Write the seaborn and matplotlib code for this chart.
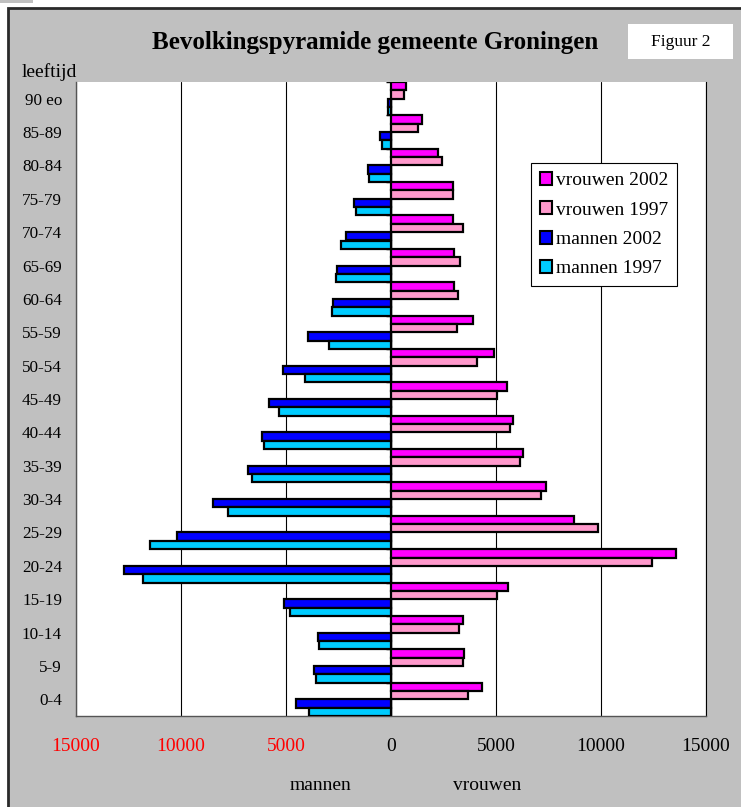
import numpy as np
import pandas as pd
import matplotlib
matplotlib.use("Agg")
import matplotlib.pyplot as plt
from matplotlib.patches import Rectangle
import seaborn as sns

leeftijd = ['0-4', '5-9', '10-14', '15-19', '20-24', '25-29', '30-34', '35-39',
            '40-44', '45-49', '50-54', '55-59', '60-64', '65-69', '70-74',
            '75-79', '80-84', '85-89', '90 eo']
mannen_2002 = [4520, 3680, 3460, 5110, 12700, 10190, 8490, 6830, 6130, 5790,
               5160, 3940, 2750, 2560, 2140, 1750, 1080, 520, 140]
mannen_1997 = [3900, 3590, 3430, 4790, 11810, 11480, 7760, 6600, 6060, 5350,
               4080, 2970, 2820, 2620, 2380, 1670, 1030, 440, 150]
vrouwen_2002 = [4320, 3460, 3440, 5590, 13590, 8700, 7370, 6290, 5790, 5520,
                4920, 3920, 3000, 3000, 2940, 2970, 2250, 1460, 700]
vrouwen_1997 = [3670, 3430, 3240, 5060, 12410, 9840, 7160, 6140, 5670, 5030,
                4100, 3160, 3190, 3270, 3440, 2940, 2430, 1270, 630]

series = ['vrouwen 2002', 'vrouwen 1997', 'mannen 2002', 'mannen 1997']
kleuren = ['#ff00ff', '#ff99cc', '#0000ff', '#00ccff']
xticks = [-15000, -10000, -5000, 0, 5000, 10000, 15000]

# long form, men to the left (negative)
df = pd.concat([
    pd.DataFrame({'leeftijd': leeftijd, 'aantal': vrouwen_2002, 'serie': 'vrouwen 2002'}),
    pd.DataFrame({'leeftijd': leeftijd, 'aantal': vrouwen_1997, 'serie': 'vrouwen 1997'}),
    pd.DataFrame({'leeftijd': leeftijd, 'aantal': [-v for v in mannen_2002], 'serie': 'mannen 2002'}),
    pd.DataFrame({'leeftijd': leeftijd, 'aantal': [-v for v in mannen_1997], 'serie': 'mannen 1997'}),
])

sns.set_style('white')
plt.rcParams['font.family'] = ['Liberation Serif', 'DejaVu Serif']
plt.rcParams['text.color'] = 'black'
plt.rcParams['xtick.labelcolor'] = 'black'
plt.rcParams['ytick.labelcolor'] = 'black'

W, H = 741, 807
fig = plt.figure(figsize=(W / 100, H / 100), dpi=100)
fig.patch.set_facecolor('white')

# grey chart area with dark border
fig.add_artist(Rectangle((8 / W, -0.02), 1.0, (H - 8) / H + 0.02, transform=fig.transFigure,
                         facecolor='#c0c0c0', edgecolor='#2a2a2a', linewidth=2, zorder=0))
fig.add_artist(Rectangle((0, 1 - 3 / H), 33 / W, 3 / H, transform=fig.transFigure,
                         facecolor='#c0c0c0', edgecolor='none', zorder=0))

ax = fig.add_axes([76 / W, (H - 716) / H, 630 / W, 634 / H])
ax.set_facecolor('white')

sns.barplot(data=df, x='aantal', y='leeftijd', hue='serie', order=leeftijd[::-1],
            hue_order=series, palette=kleuren, saturation=1, orient='h', width=1.0,
            dodge=True, edgecolor='black', linewidth=1.6, ax=ax, zorder=3)

ax.set_xlim(-15000, 15000)
ax.set_ylim(len(leeftijd) - 0.5, -0.5)
ax.set_xticks(xticks)
ax.set_xticklabels([str(abs(t)) for t in xticks], fontsize=14)
for lbl, t in zip(ax.get_xticklabels(), xticks):
    lbl.set_color('red' if t < 0 else 'black')
ax.tick_params(axis='x', direction='out', length=7, width=1, color='#333333', pad=9)
ax.tick_params(axis='y', length=0, pad=10, labelsize=12.3)
ax.set_xlabel('')
ax.set_ylabel('')

ax.grid(axis='x', color='black', linewidth=0.8, zorder=0)
ax.set_axisbelow(True)
ax.axvline(0, color='black', linewidth=1, zorder=2)
# category separator ticks on the zero axis
ax.hlines(np.arange(len(leeftijd) + 1) - 0.5, -250, 0, color='black', linewidth=1, zorder=2)

for s in ['left', 'bottom']:
    ax.spines[s].set_color('#555555')
    ax.spines[s].set_linewidth(1)
ax.spines['right'].set_color('black')
ax.spines['right'].set_linewidth(0.8)
ax.spines['top'].set_visible(False)

leg = ax.legend(loc='upper left', bbox_to_anchor=(0.722, 0.872), fontsize=14,
                frameon=True, fancybox=False, framealpha=1, facecolor='white',
                edgecolor='black', handlelength=0.65, handleheight=0.65,
                handletextpad=0.2, labelspacing=0.62, borderpad=0.45, borderaxespad=0)
leg.get_frame().set_linewidth(0.8)
for h in leg.legend_handles:
    h.set_edgecolor('black')
    h.set_linewidth(1.5)
for t in leg.get_texts():
    t.set_color('black')

fig.text(375 / W, 1 - 43 / H, 'Bevolkingspyramide gemeente Groningen', ha='center',
         va='center', fontsize=18, fontweight='bold', color='black')
fig.add_artist(Rectangle((628 / W, 1 - 59 / H), 105 / W, 35 / H, transform=fig.transFigure,
                         facecolor='white', edgecolor='none', zorder=1))
fig.text(681 / W, 1 - 42 / H, 'Figuur 2', ha='center', va='center', fontsize=12.5, color='black')
fig.text(22 / W, 1 - 72 / H, 'leeftijd', ha='left', va='center', fontsize=14, color='black')
fig.text(320 / W, 1 - 785 / H, 'mannen', ha='center', va='center', fontsize=14, color='black')
fig.text(487 / W, 1 - 785 / H, 'vrouwen', ha='center', va='center', fontsize=14, color='black')

fig.savefig('out.png', dpi=100)
